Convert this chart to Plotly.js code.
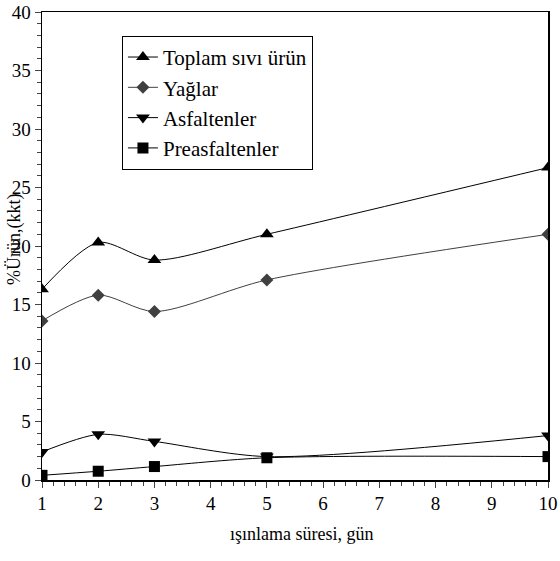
<!DOCTYPE html>
<html>
<head>
<meta charset="utf-8">
<script src="https://cdn.plot.ly/plotly-3.0.1.min.js"></script>
<style>html,body{margin:0;padding:0;background:#fff;}#chart{width:560px;height:561px;}
#chart text{font-family:"Liberation Serif","Times New Roman",serif !important;}</style>
</head>
<body>
<div id="chart"></div>
<script>
const days = [1, 2, 3, 5, 10];
const toplam = [16.3, 20.3, 18.8, 21.0, 26.7];
const yaglar = [13.6, 15.8, 14.4, 17.1, 21.0];
const asfaltenler = [2.4, 3.9, 3.3, 2.0, 3.8];
const preasfaltenler = [0.4, 0.75, 1.15, 1.9, 2.0];
const seriesNames = ["Toplam sıvı ürün", "Yağlar", "Asfaltenler", "Preasfaltenler"];
const xTickVals = [1, 2, 3, 4, 5, 6, 7, 8, 9, 10];
const xTitle = "ışınlama süresi, gün";
const yTitle = "%Ürün,(kkt)";

const font = "'Liberation Serif', 'Times New Roman', serif";
function tr(name, y, symbol, color, size) {
  return {
    x: days, y: y, name: name, type: "scatter", mode: "lines+markers",
    line: {shape: "spline", smoothing: 0.8, color: color, width: 1},
    marker: {symbol: symbol, color: color, size: size}
  };
}
const data = [
  tr(seriesNames[0], toplam, "triangle-up", "#000", 12),
  tr(seriesNames[1], yaglar, "diamond", "#404040", 10),
  tr(seriesNames[2], asfaltenler, "triangle-down", "#000", 12),
  tr(seriesNames[3], preasfaltenler, "square", "#000", 11)
];
const layout = {
  width: 560, height: 561,
  margin: {l: 42, r: 12, t: 12, b: 81},
  paper_bgcolor: "#fff", plot_bgcolor: "#fff",
  font: {family: font, color: "#000", size: 18},
  showlegend: true,
  legend: {x: 0.158, y: 0.949, xanchor: "left", yanchor: "top",
    bordercolor: "#000", borderwidth: 1, bgcolor: "#fff",
    font: {family: font, size: 21}, tracegroupgap: 0},
  xaxis: {
    range: [1, 10], tickvals: xTickVals, ticks: "outside", ticklen: 6,
    showgrid: false, zeroline: false, showline: true, linecolor: "#000", linewidth: 1.5,
    mirror: true, tickfont: {family: font, size: 19},
    minor: {dtick: 0.2, ticks: "outside", ticklen: 4, showgrid: false}
  },
  yaxis: {
    range: [0, 40], dtick: 5, ticks: "outside", ticklen: 6,
    showgrid: false, zeroline: false, showline: true, linecolor: "#000", linewidth: 1.5,
    mirror: true, tickfont: {family: font, size: 19},
    minor: {dtick: 1, ticks: "outside", ticklen: 4, showgrid: false}
  },
  annotations: [
    {text: xTitle, xref: "paper", yref: "paper", x: 0.512, y: -0.115,
     xanchor: "center", yanchor: "middle", showarrow: false, font: {family: font, size: 18}},
    {text: yTitle, xref: "paper", yref: "paper", x: -0.053, y: 0.513, textangle: -90,
     xanchor: "center", yanchor: "middle", showarrow: false, font: {family: font, size: 18}}
  ]
};
Plotly.newPlot("chart", data, layout, {displayModeBar: false, staticPlot: true});
</script>
</body>
</html>
